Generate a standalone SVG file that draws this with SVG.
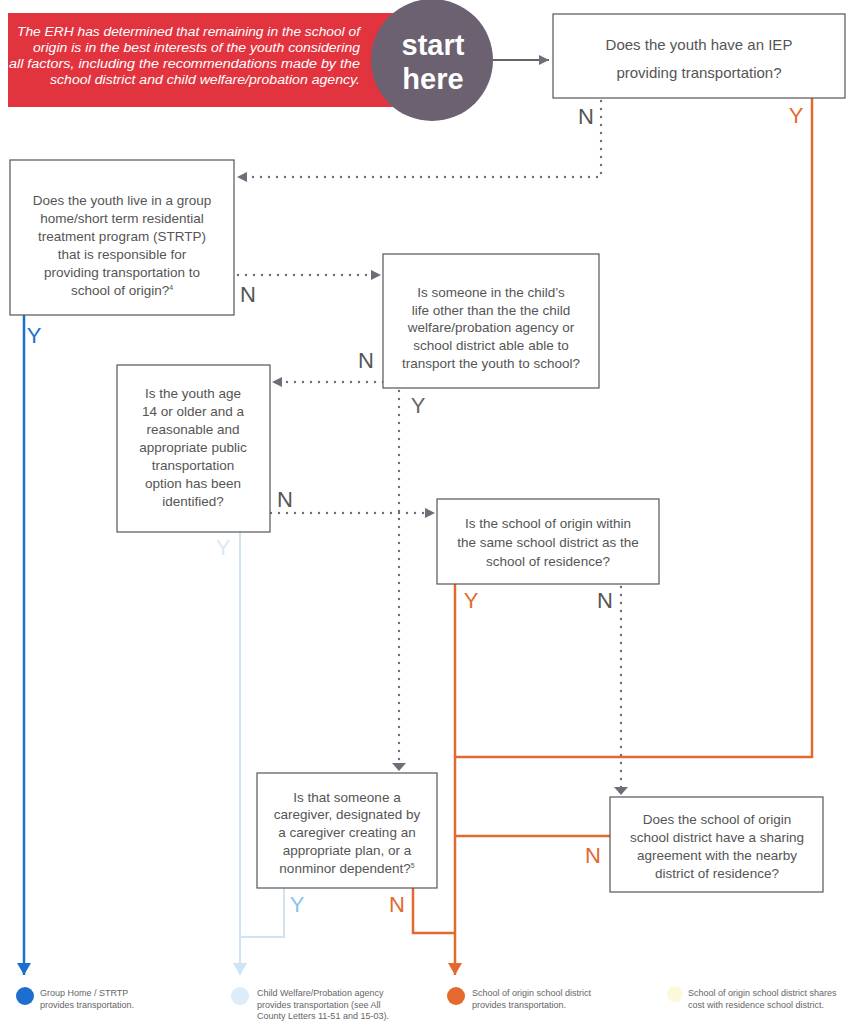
<svg xmlns="http://www.w3.org/2000/svg" width="855" height="1028" viewBox="0 0 855 1028">
<style>
.box{fill:#fff;stroke:#555;stroke-width:1.2}
.q{font-family:"Liberation Sans",Arial,sans-serif;font-size:13.5px;fill:#555;text-anchor:middle}
.lbl{font-family:"Liberation Sans",Arial,sans-serif;font-size:22px;text-anchor:middle}
.dot{fill:none;stroke:#6e6e78;stroke-width:2.4;stroke-linecap:round;stroke-dasharray:0 8}
.or{fill:none;stroke:#e4692f;stroke-width:2.5}
.bl{fill:none;stroke:#1d6fcf;stroke-width:2.5}
.lb{fill:none;stroke:#cfe3f3;stroke-width:2}
.leg{font-family:"Liberation Sans",Arial,sans-serif;font-size:9px;fill:#666}
.ban{font-family:"Liberation Sans",Arial,sans-serif;font-size:12.5px;font-style:italic;fill:#fff;text-anchor:end}
.st{font-family:"Liberation Sans",Arial,sans-serif;font-size:29px;font-weight:bold;fill:#fff;text-anchor:middle}
</style>
<defs>
<marker id="ag" markerUnits="userSpaceOnUse" viewBox="0 0 10 10" refX="10" refY="5" markerWidth="10" markerHeight="10" orient="auto"><path d="M0,0 L10,5 L0,10 z" fill="#6e6e78"/></marker>
<marker id="af" markerUnits="userSpaceOnUse" viewBox="0 0 8 14" refX="8" refY="7" markerWidth="8" markerHeight="14" orient="auto"><path d="M0,0 L8,7 L0,14 z" fill="#6e6e78"/></marker>
<marker id="ao" markerUnits="userSpaceOnUse" viewBox="0 0 12 14" refX="12" refY="7" markerWidth="12" markerHeight="14" orient="auto"><path d="M0,0 L12,7 L0,14 z" fill="#e4692f"/></marker>
<marker id="ab" markerUnits="userSpaceOnUse" viewBox="0 0 12 14" refX="12" refY="7" markerWidth="12" markerHeight="14" orient="auto"><path d="M0,0 L12,7 L0,14 z" fill="#1d6fcf"/></marker>
<marker id="al" markerUnits="userSpaceOnUse" viewBox="0 0 12 14" refX="12" refY="7" markerWidth="12" markerHeight="14" orient="auto"><path d="M0,0 L12,7 L0,14 z" fill="#cfe3f3"/></marker>
</defs>
<rect width="855" height="1028" fill="#fff"/>

<g id="connectors">
<path d="M493,60 H549" fill="none" stroke="#666" stroke-width="2" marker-end="url(#ag)"/>
<path class="dot" d="M601,101 V177 H237" marker-end="url(#ag)"/>
<path class="or" d="M812,98 V757 H455"/>
<path class="bl" d="M24,315 V975" marker-end="url(#ab)"/>
<path class="dot" d="M238,275 H381" marker-end="url(#ag)"/>
<path class="dot" d="M383,382 H272" marker-end="url(#ag)"/>
<path class="dot" d="M399,391 V771" marker-end="url(#af)"/>
<path class="dot" d="M271,513 H435" marker-end="url(#ag)"/>
<path class="lb" d="M240,532 V975" marker-end="url(#al)"/>
<path class="or" d="M455,584 V975" marker-end="url(#ao)"/>
<path class="dot" d="M621,587 V795" marker-end="url(#af)"/>
<path class="or" d="M610,836 H455"/>
<path class="lb" d="M284,888 V937 H240"/>
<path class="or" d="M413,888 V933 H455"/>
<text class="lbl" x="586" y="124" fill="#555">N</text>
<text class="lbl" x="796" y="123" fill="#e4692f">Y</text>
<text class="lbl" x="34" y="343" fill="#1d6fcf">Y</text>
<text class="lbl" x="248" y="302" fill="#555">N</text>
<text class="lbl" x="366" y="368" fill="#555">N</text>
<text class="lbl" x="418" y="413" fill="#666">Y</text>
<text class="lbl" x="285" y="507" fill="#555">N</text>
<text class="lbl" x="223" y="555" fill="#dbe9f5">Y</text>
<text class="lbl" x="471" y="608" fill="#e4692f">Y</text>
<text class="lbl" x="605" y="608" fill="#555">N</text>
<text class="lbl" x="593" y="863" fill="#e4692f">N</text>
<text class="lbl" x="297" y="912" fill="#8cc3ea">Y</text>
<text class="lbl" x="397" y="912" fill="#e4692f">N</text>
</g>

<g id="intro">
<rect x="8" y="13" width="400" height="94" fill="#e2343f"/>
<text class="ban" x="360" y="36" textLength="343" lengthAdjust="spacingAndGlyphs">The ERH has determined that remaining in the school of</text>
<text class="ban" x="360" y="52" textLength="327" lengthAdjust="spacingAndGlyphs">origin is in the best interests of the youth considering</text>
<text class="ban" x="360" y="68" textLength="351" lengthAdjust="spacingAndGlyphs">all factors, including the recommendations made by the</text>
<text class="ban" x="360" y="84" textLength="310" lengthAdjust="spacingAndGlyphs">school district and child welfare/probation agency.</text>
</g>

<g id="start">
<circle cx="432" cy="60" r="61" fill="#6b6170"/>
<text class="st" x="433" y="55">start</text>
<text class="st" x="433" y="89">here</text>
</g>

<g id="q-iep">
<rect class="box" x="553" y="14" width="292" height="84"/>
<text class="q" x="699" y="50" style="font-size:15px">Does the youth have an IEP</text>
<text class="q" x="699" y="78" style="font-size:15px">providing transportation?</text>
</g>

<g id="q-group-home">
<rect class="box" x="10" y="160" width="224" height="155"/>
<text class="q" x="122" y="205">Does the youth live in a group</text>
<text class="q" x="122" y="223">home/short term residential</text>
<text class="q" x="122" y="241">treatment program (STRTP)</text>
<text class="q" x="122" y="259">that is responsible for</text>
<text class="q" x="122" y="277">providing transportation to</text>
<text class="q" x="122" y="295">school of origin?<tspan font-size="7" dy="-5">4</tspan></text>
</g>

<g id="q-someone">
<rect class="box" x="383" y="254" width="216" height="134"/>
<text class="q" x="491" y="297">Is someone in the child’s</text>
<text class="q" x="491" y="315">life other than the the child</text>
<text class="q" x="491" y="332">welfare/probation agency or</text>
<text class="q" x="491" y="350">school district able able to</text>
<text class="q" x="491" y="368">transport the youth to school?</text>
</g>

<g id="q-age">
<rect class="box" x="117" y="365" width="153" height="167"/>
<text class="q" x="193" y="398">Is the youth age</text>
<text class="q" x="193" y="416">14 or older and a</text>
<text class="q" x="193" y="434">reasonable and</text>
<text class="q" x="193" y="452">appropriate public</text>
<text class="q" x="193" y="470">transportation</text>
<text class="q" x="193" y="488">option has been</text>
<text class="q" x="193" y="506">identified?</text>
</g>

<g id="q-same-district">
<rect class="box" x="437" y="499" width="222" height="85"/>
<text class="q" x="548" y="528">Is the school of origin within</text>
<text class="q" x="548" y="547">the same school district as the</text>
<text class="q" x="548" y="566">school of residence?</text>
</g>

<g id="q-caregiver">
<rect class="box" x="257" y="773" width="180" height="115"/>
<text class="q" x="347" y="802">Is that someone a</text>
<text class="q" x="347" y="819">caregiver, designated by</text>
<text class="q" x="347" y="837">a caregiver creating an</text>
<text class="q" x="347" y="855">appropriate plan, or a</text>
<text class="q" x="347" y="873">nonminor dependent?<tspan font-size="7" dy="-5">5</tspan></text>
</g>

<g id="q-sharing">
<rect class="box" x="610" y="797" width="213" height="95"/>
<text class="q" x="717" y="824">Does the school of origin</text>
<text class="q" x="717" y="842">school district have a sharing</text>
<text class="q" x="717" y="860">agreement with the nearby</text>
<text class="q" x="717" y="878">district of residence?</text>
</g>

<g id="legend-group-home">
<circle cx="25" cy="996" r="9" fill="#1d6fcf"/>
<text class="leg" x="40" y="996">Group Home / STRTP</text>
<text class="leg" x="40" y="1008">provides transportation.</text>
</g>
<g id="legend-agency">
<circle cx="240" cy="996" r="9" fill="#dcecf8"/>
<text class="leg" x="257" y="996">Child Welfare/Probation agency</text>
<text class="leg" x="257" y="1007.5">provides transportation (see All</text>
<text class="leg" x="257" y="1019">County Letters 11-51 and 15-03).</text>
</g>
<g id="legend-origin">
<circle cx="456" cy="996" r="9" fill="#e4692f"/>
<text class="leg" x="472" y="996">School of origin school district</text>
<text class="leg" x="472" y="1008">provides transportation.</text>
</g>
<g id="legend-shared">
<circle cx="675" cy="994" r="8" fill="#fbf8dc"/>
<text class="leg" x="688" y="996">School of origin school district shares</text>
<text class="leg" x="688" y="1008">cost with residence school district.</text>
</g>
</svg>
